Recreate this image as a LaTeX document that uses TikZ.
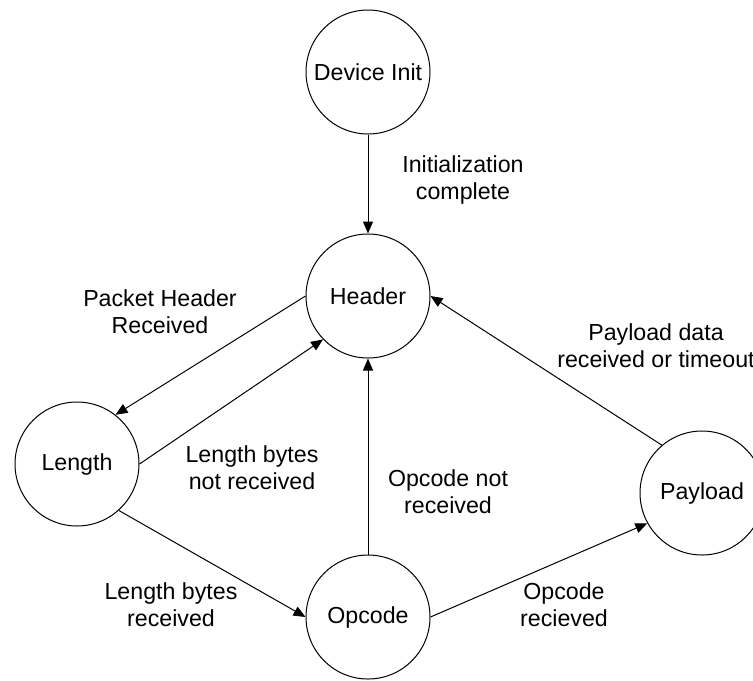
\documentclass[tikz,border=0pt]{standalone}
\usepackage{fontspec}
\setmainfont{Liberation Sans}
\usetikzlibrary{arrows.meta}
\newcommand{\lblfont}{\fontsize{11.6}{13.6}\selectfont}

\begin{document}
\begin{tikzpicture}[x=0.5pt, y=-0.5pt,
    st/.style={circle, draw=black, line width=0.5pt, minimum size=62pt,
              inner sep=0pt, font=\lblfont},
    lab/.style={align=center, font=\lblfont},
    arr/.style={-{Triangle[length=6pt,width=5pt]}, draw=black, line width=0.5pt}]
  \useasboundingbox (0,0) rectangle (753,680);

  % ---------- states -------------------------------------------------------
  \node[st] (init)    at (368,72)  {Device Init};
  \node[st] (header)  at (368,296) {Header};
  \node[st] (length)  at (77,464)  {Length};
  \node[st] (opcode)  at (368,617) {Opcode};
  \node[st] (payload) at (702,493) {Payload};

  % ---------- transitions --------------------------------------------------
  \draw[arr] (init.south) -- (header.north);
  \draw[arr] (header.west) -- (length.52);
  \draw[arr] (length.east) -- (header.224);
  \draw[arr] (length.-48) -- (opcode.west);
  \draw[arr] (opcode.north) -- (header.south);
  \draw[arr] (opcode.east) -- (payload.209);
  \draw[arr] (payload.130) -- (header.east);

  % ---------- labels -------------------------------------------------------
  \node[lab] (linit) at (463,180) {Initialization\\complete};
  \node[lab] (lhdr)  at (160,312) {Packet Header\\Received};
  \node[lab] (lpay)  at (656,346) {Payload data\\received or timeout};
  \node[lab] (llnr)  at (252,468) {Length bytes\\not received};
  \node[lab] (lopnr) at (448,492) {Opcode not\\received};
  \node[lab] (llr)   at (171,605) {Length bytes\\received};
  \node[lab] (lopr)  at (564,605) {Opcode\\recieved};
\end{tikzpicture}
\end{document}
